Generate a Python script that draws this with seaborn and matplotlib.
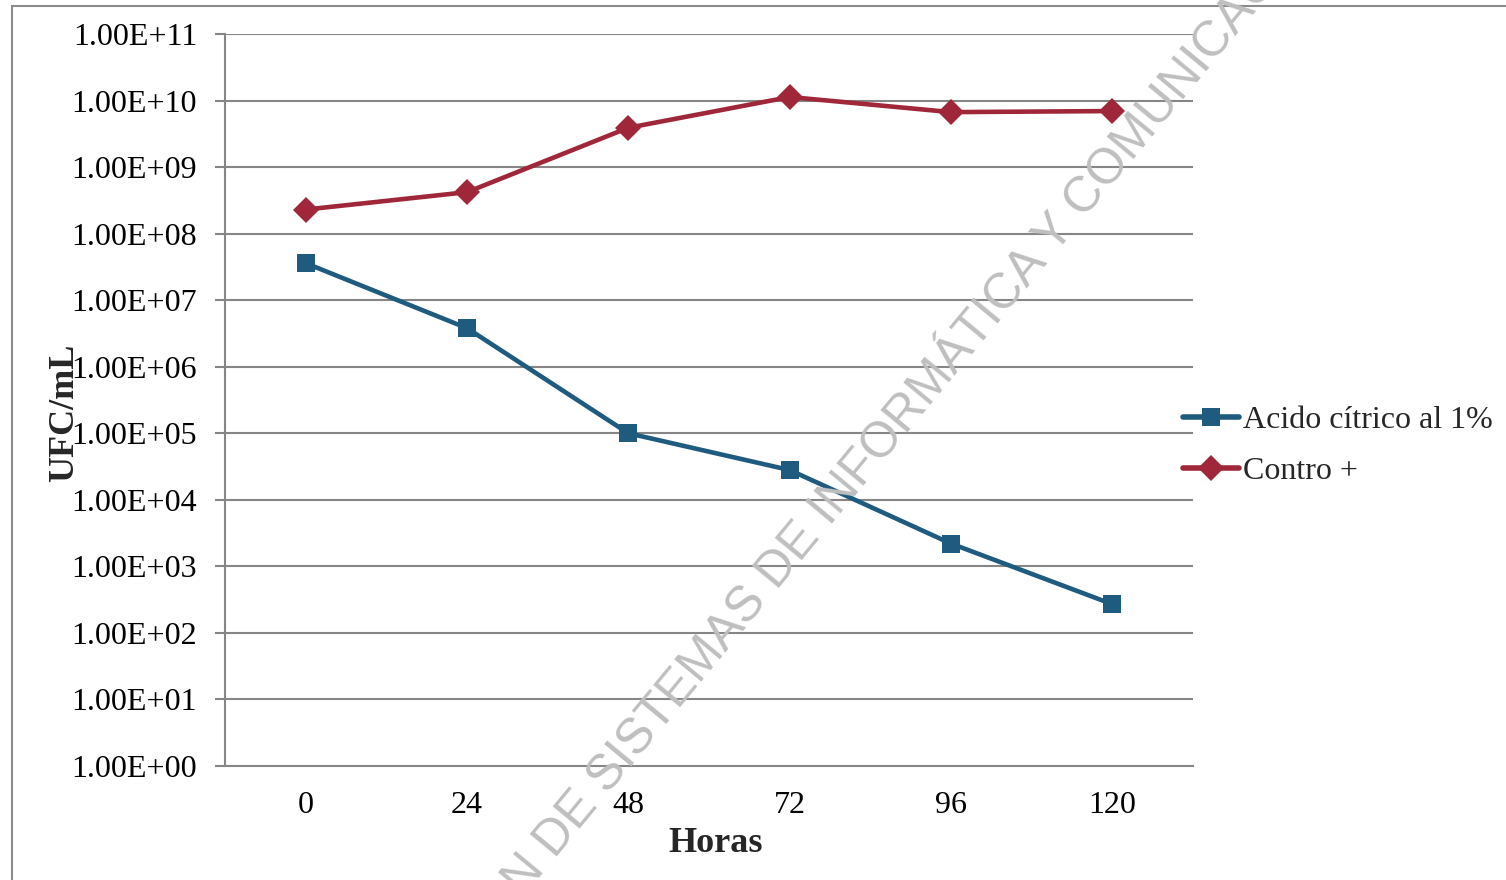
import numpy as np
import pandas as pd
import seaborn as sns
import matplotlib
matplotlib.use("Agg")
import matplotlib.pyplot as plt
from matplotlib.ticker import FixedLocator, FuncFormatter, NullLocator
from matplotlib.patches import Rectangle

# Data: bacterial counts (UFC/mL) over time
horas = [0, 24, 48, 72, 96, 120]
acido_citrico = [3.6e7, 3.8e6, 1.0e5, 2.8e4, 2.2e3, 2.7e2]
control = [2.3e8, 4.2e8, 3.9e9, 1.13e10, 6.7e9, 6.95e9]
series_names = ["Acido cítrico al 1%", "Contro +"]
y_ticks = [10.0 ** k for k in range(0, 12)]

df = pd.DataFrame({
    "Horas": horas * 2,
    "UFC": acido_citrico + control,
    "Serie": [series_names[0]] * len(horas) + [series_names[1]] * len(horas),
})

sns.set_theme(style="white")
plt.rcParams["font.family"] = ["Liberation Serif", "DejaVu Serif"]

W, H = 1506, 880
fig = plt.figure(figsize=(W / 100, H / 100), dpi=100)
ax = fig.add_axes([225 / W, 1 - 766 / H, (1193 - 225) / W, (766 - 34) / H])

blue = "#1F5A7F"
red = "#9F2739"
grid_c = "#868686"

ax.set_yscale("log")
for yv in y_ticks[1:]:
    ax.axhline(yv, color=grid_c, lw=1.5, zorder=0)

sns.lineplot(
    data=df, x="Horas", y="UFC", hue="Serie", style="Serie",
    palette={series_names[0]: blue, series_names[1]: red},
    markers={series_names[0]: "s", series_names[1]: "D"},
    dashes=False, linewidth=3.3, markersize=13, markeredgewidth=0,
    ax=ax, zorder=3,
)

ax.set_xlim(-12, 132)
ax.set_ylim(1, 1e11)
ax.xaxis.set_major_locator(FixedLocator(horas))
ax.yaxis.set_major_locator(FixedLocator(y_ticks))
ax.yaxis.set_minor_locator(NullLocator())
ax.yaxis.set_major_formatter(FuncFormatter(lambda v, p: f"{v:.2E}"))

for s in ["top", "right"]:
    ax.spines[s].set_visible(False)
ax.spines["left"].set_color(grid_c)
ax.spines["left"].set_linewidth(1.5)
ax.spines["bottom"].set_color(grid_c)
ax.spines["bottom"].set_linewidth(1.5)

ax.tick_params(axis="y", which="major", length=7, width=1.5, color=grid_c,
               labelsize=23, pad=13, left=True, labelcolor="black")
ax.tick_params(axis="x", length=0, labelsize=23, pad=18, labelcolor="black")
ax.set_xlabel("")
ax.set_ylabel("")

fig.text(716 / W, 1 - 843 / H, "Horas", ha="center", va="center",
         fontsize=26, fontweight="bold")
fig.text(65 / W, 1 - 413 / H, "UFC/mL", ha="center", va="center",
         rotation=90, fontsize=26, fontweight="bold")

leg = ax.legend(loc="center left", bbox_to_anchor=(1183 / W, 1 - 446 / H),
                bbox_transform=fig.transFigure, frameon=False,
                fontsize=23, handlelength=1.75, handletextpad=0.12,
                labelspacing=0.68, borderaxespad=0, borderpad=0)
for h in leg.legend_handles:
    h.set_linewidth(4)

# Chart frame
fig.patches.append(Rectangle((12 / W, -0.1), 1.2, (1 - 6 / H) + 0.1,
                             transform=fig.transFigure, fill=False,
                             edgecolor="#8C8C8C", lw=1.5))

# Diagonal repository watermark
fig.text(842 / W, 1 - 492 / H,
         "DIRECCIÓN DE SISTEMAS DE INFORMÁTICA Y COMUNICACIÓN",
         ha="center", va="center", rotation=50.4, rotation_mode="anchor",
         fontsize=35.8, color="#BFBFBF", family="Liberation Sans", zorder=10)

fig.savefig("out.png", dpi=100)
